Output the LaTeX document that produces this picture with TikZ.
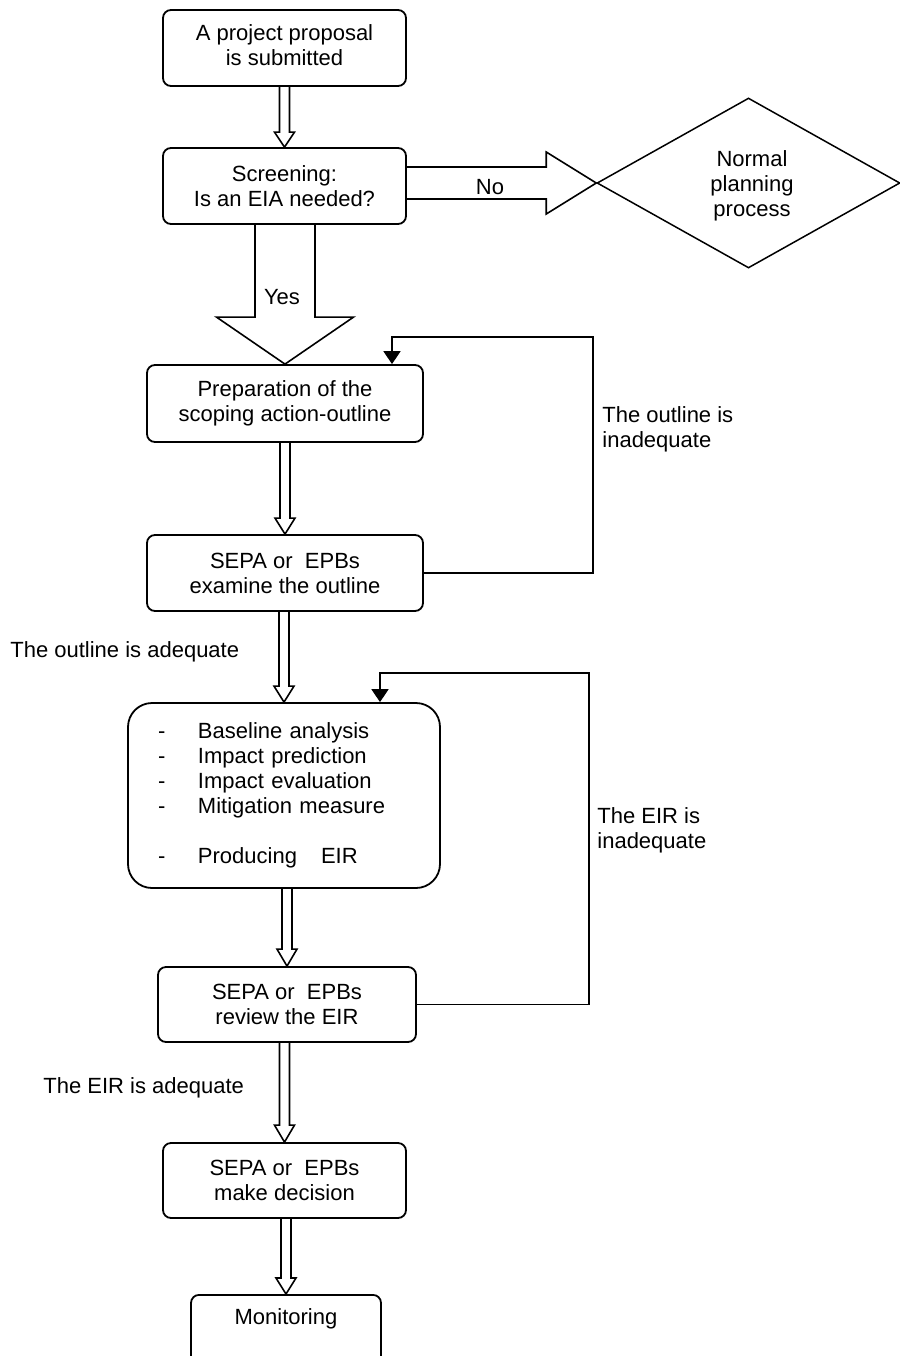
\documentclass[tikz,border=0pt]{standalone}
\usepackage{fontspec}
\setmainfont{Liberation Sans}
\usetikzlibrary{calc,shapes.geometric,arrows.meta}

% hollow block arrow pointing down: #1 from node, #2 to node,
% #3 half shaft width, #4 half head width, #5 head length
\newcommand\hollowdown[5]{%
  \coordinate (tip) at (#2.north);
  \coordinate (tail) at (#2.north |- #1.south);
  \draw[hollow] ($(tail)+(-#3,0)$) -- ($(tip)+(-#3,-#5)$) -- ($(tip)+(-#4,-#5)$)
    -- (tip) -- ($(tip)+(#4,-#5)$) -- ($(tip)+(#3,-#5)$) -- ($(tail)+(#3,0)$);
}
% hollow block arrow pointing right
\newcommand\hollowright[5]{%
  \coordinate (tip) at (#2.west);
  \coordinate (tail) at (#1.east |- #2.west);
  \draw[hollow] ($(tail)+(0,-#3)$) -- ($(tip)+(-#5,-#3)$) -- ($(tip)+(-#5,-#4)$)
    -- (tip) -- ($(tip)+(-#5,#4)$) -- ($(tip)+(-#5,#3)$) -- ($(tail)+(0,#3)$);
}

\begin{document}
\begin{tikzpicture}[x=0.5pt,y=-0.5pt,
  font=\fontsize{11}{12.5}\selectfont,
  box/.style={draw,line width=0.9pt,rounded corners=4pt,align=center,inner sep=0pt},
  hollow/.style={line width=0.8pt,line join=miter},
  fb/.style={draw,line width=0.9pt,-{Triangle[width=8.5pt,length=6.5pt]}},
  lbl/.style={inner sep=0pt,align=left}]
\useasboundingbox (0,0) rectangle (900,1356);

% process boxes
\node[box,minimum width=121.5pt,minimum height=38pt] (b1) at (284.5,48) {};
\node[lbl,align=center] (b1t) at (284.5,45.5) {A project proposal\\is submitted};
\node[box,minimum width=121.5pt,minimum height=38pt] (b2) at (284.5,186)
  {Screening:\\Is an EIA needed?};
\node[draw,diamond,line width=0.75pt,aspect=1.78,minimum width=151.5pt,
  minimum height=85pt,inner sep=0pt] (d) at (748.5,183) {};
\node[lbl,align=center] (dt) at (752,186) {Normal\\planning\\process};
\node[box,minimum width=138pt,minimum height=38.5pt] (b3) at (285,403.5)
  {Preparation of the\\scoping action-outline};
\node[box,minimum width=138pt,minimum height=38pt] (b4) at (285,573)
  {SEPA or~ EPBs\\examine the outline};
\node[box,rounded corners=12pt,minimum width=156pt,minimum height=92.5pt,
  text width=126pt,inner xsep=15pt,align=left] (b5) at (284,795.5)
  {\makebox[20pt][l]{-}Baseline analysis\\
   \makebox[20pt][l]{-}Impact prediction\\
   \makebox[20pt][l]{-}Impact evaluation\\
   \makebox[20pt][l]{-}Mitigation measure\\[12.5pt]
   \makebox[20pt][l]{-}Producing\hspace{12pt}EIR};
\node[box,minimum width=129pt,minimum height=37.5pt] (b6) at (287,1004.5)
  {SEPA or~ EPBs\\review the EIR};
\node[box,minimum width=121.5pt,minimum height=37.5pt] (b7) at (284.5,1180.5)
  {SEPA or~ EPBs\\make decision};
\node[box,anchor=north,minimum width=95pt,minimum height=45pt] (b8) at (286,1294) {};
\node[lbl] (b8t) at ($(b8.north)+(0,25)$) {Monitoring};

% main flow
\hollowdown{b1}{b2}{5}{10}{15}
\hollowdown{b2}{b3}{30}{68.5}{47}
\hollowdown{b3}{b4}{5}{10}{16}
\hollowdown{b4}{b5}{5}{10}{16}
\hollowdown{b5}{b6}{5}{10}{17}
\hollowdown{b6}{b7}{5}{10}{17}
\hollowdown{b7}{b8}{5}{10}{16}
\hollowright{b2}{d}{16}{31}{50}

\node[lbl] (ly) at (282,297) {Yes};
\node[lbl] (ln) at (490,187) {No};

% feedback loops
\coordinate (c1) at (593,337);
\coordinate (k1) at (392,0);
\draw[fb] (b4.east) -| (c1) -| (b3.north -| k1);
\coordinate (c2) at (589,673);
\coordinate (k2) at (380,0);
\draw[fb] (b6.east) -| (c2) -| (b5.north -| k2);

\node[lbl,anchor=west] (l1) at (602,429) {The outline is\\inadequate};
\node[lbl,anchor=west] (l2) at (597,830) {The EIR is\\inadequate};
\node[lbl,anchor=west] (l3) at (10,652) {The outline is adequate};
\node[lbl,anchor=west] (l4) at (43,1088) {The EIR is adequate};
\end{tikzpicture}
\end{document}
